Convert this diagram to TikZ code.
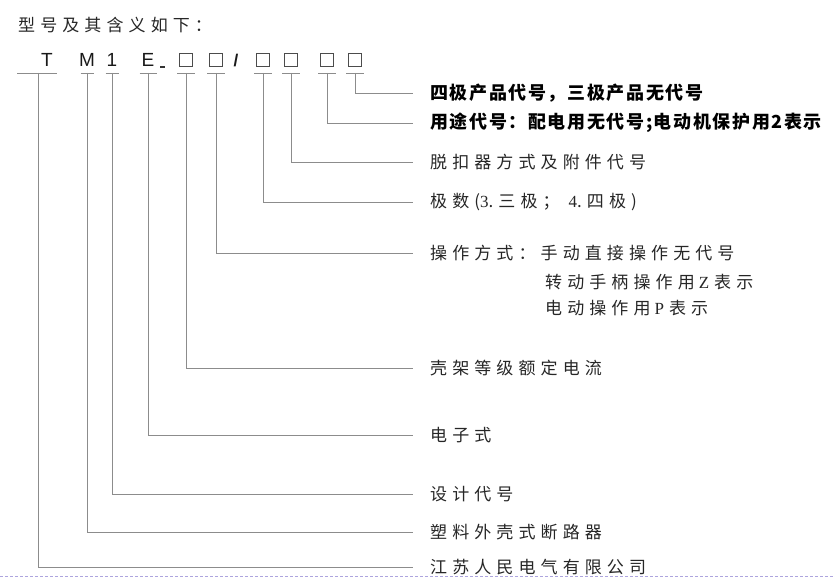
\documentclass[tikz,border=0pt]{standalone}
\usepackage{fontspec}
\setmainfont{Liberation Sans}
\newfontfamily\cjk[LetterSpace=30]{Noto Sans CJK SC}
\newfontfamily\cjkbold[LetterSpace=9]{Noto Sans CJK SC}
\newfontfamily\serifnum{Liberation Serif}
\definecolor{leadgray}{HTML}{8C8C8C}
\definecolor{textgray}{HTML}{262626}
\definecolor{pagerule}{HTML}{ADA4DE}
\tikzset{
  lead/.style={draw=leadgray, line width=0.9pt},
  codechar/.style={inner sep=0pt, font=\fontsize{19}{19}\selectfont, text=black!90},
  codebox/.style={draw=black!70, line width=0.7pt, minimum size=13.5pt, inner sep=0pt},
  desc/.style={anchor=west, inner sep=0pt, font=\cjk\fontsize{17}{17}\selectfont, text=textgray},
  descbold/.style={anchor=west, inner sep=0pt, font=\cjkbold\bfseries\fontsize{18}{18}\selectfont, text=black},
}
\begin{document}
\begin{tikzpicture}[x=1pt, y=-1pt]
      \useasboundingbox (0,0) rectangle (834,577);
      \node[desc, font=\cjk\fontsize{17}{17}\selectfont] (title) at (18,25) {型号及其含义如下：};
      % model code
      \node[codechar] (cT) at (47,60) {T};
      \node[codechar] (cM) at (87,60) {M};
      \node[codechar] (c1) at (112,60) {1};
      \node[codechar] (cE) at (148,60) {E};
      \node[fill=black!80, minimum width=5pt, minimum height=2pt, inner sep=0pt] (cdash) at (162,67) {};
      \node[codebox] (b1) at (186,60) {};
      \node[codebox] (b2) at (216,60) {};
      \node[codechar, font=\bfseries\fontsize{17}{17}\selectfont] (cslash) at (236,61) {/};
      \node[codebox] (b3) at (263,60) {};
      \node[codebox] (b4) at (291,60) {};
      \node[codebox] (b5) at (327,60) {};
      \node[codebox] (b6) at (355,60) {};
      \foreach \x/\w in {37/20, 87/6.5, 112/6.5, 148/8.5, 186/9, 216/9, 263/9, 291/9, 327/9, 355/9}
        \draw[lead] (\x-\w,73) -- (\x+\w,73);
      \coordinate (uT) at (38,73);
      \coordinate (uM) at (87,73);
      \coordinate (u1) at (112,73);
      \coordinate (uE) at (148,73);
      \coordinate (ub1) at (186,73);
      \coordinate (ub2) at (216,73);
      \coordinate (ub3) at (263,73);
      \coordinate (ub4) at (291,73);
      \coordinate (ub5) at (327,73);
      \coordinate (ub6) at (355,73);
      % meanings
      \node[descbold] (db6) at (430,93) {四极产品代号，三极产品无代号};
      \node[descbold] (db5) at (430,123) {用途代号：配电用无代号;电动机保护用2表示};
      \node[desc] (db4) at (430,162) {脱扣器方式及附件代号};
      \node[desc] (db3) at (430,202) {极数({\serifnum 3}.三极； {\serifnum 4}.四极)};
      \node[desc] (db2) at (430,253) {操作方式：手动直接操作无代号};
      \node[desc] (db2b) at (545,282) {转动手柄操作用\hspace{4pt}{\serifnum Z}\hspace{5pt}表示};
      \node[desc] (db2c) at (545,308) {电动操作用\hspace{4pt}{\serifnum P}\hspace{5pt}表示};
      \node[desc] (db1) at (430,368) {壳架等级额定电流};
      \node[desc] (dE) at (430,435) {电子式};
      \node[desc] (d1) at (430,494) {设计代号};
      \node[desc] (dM) at (430,532) {塑料外壳式断路器};
      \node[desc] (dT) at (430,567) {江苏人民电气有限公司};
      % leaders
      \draw[lead] (ub6) |- ([xshift=-17pt]db6.west);
      \draw[lead] (ub5) |- ([xshift=-17pt]db5.west);
      \draw[lead] (ub4) |- ([xshift=-17pt]db4.west);
      \draw[lead] (ub3) |- ([xshift=-17pt]db3.west);
      \draw[lead] (ub2) |- ([xshift=-17pt]db2.west);
      \draw[lead] (ub1) |- ([xshift=-17pt]db1.west);
      \draw[lead] (uE) |- ([xshift=-17pt]dE.west);
      \draw[lead] (u1) |- ([xshift=-17pt]d1.west);
      \draw[lead] (uM) |- ([xshift=-17pt]dM.west);
      \draw[lead] (uT) |- ([xshift=-17pt]dT.west);
      \draw[pagerule, line width=1pt, dash pattern=on 3pt off 2pt] (0,576) -- (834,576);
    \end{tikzpicture}
\end{document}
